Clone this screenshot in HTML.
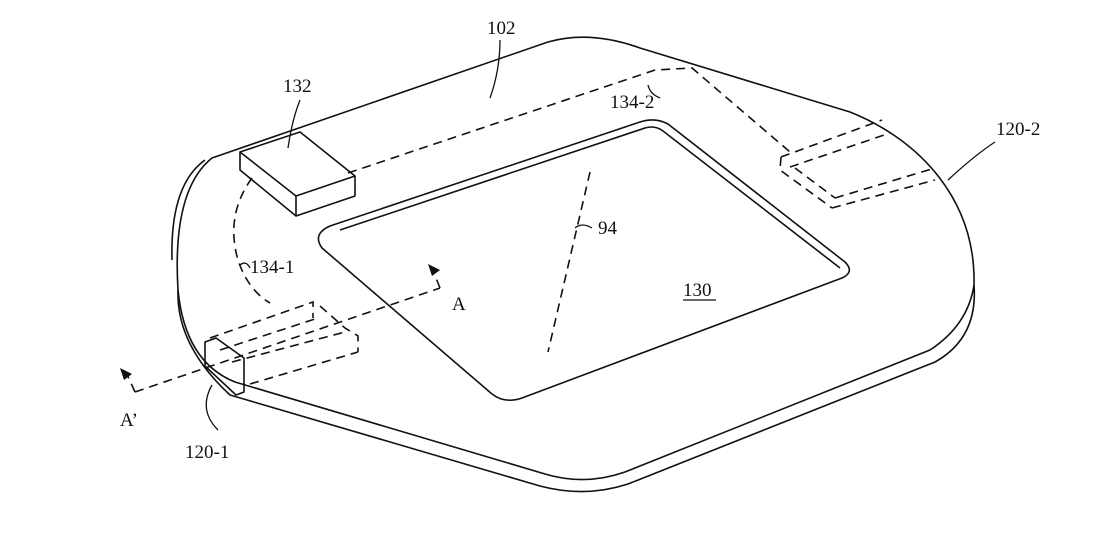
<!DOCTYPE html>
<html><head><meta charset="utf-8"><style>
html,body{margin:0;padding:0;background:#fff;}
svg{display:block}
text{font-family:"Liberation Serif",serif;font-size:19px;fill:#111}
</style></head><body>
<svg width="1109" height="534" viewBox="0 0 1109 534" xmlns="http://www.w3.org/2000/svg">
<g fill="none" stroke="#111" stroke-width="1.6" stroke-linejoin="round">
<path d="M212 158 L548 42 Q590 30 640 48 L850 112 C920 140 976 200 974 285 Q968 325 930 350 L625 472 Q585 486 545 474 L235 382 Q185 362 178 290 Q172 190 212 158 Z"/>
<path d="M178 290 Q176 345 230 395 L540 486 Q585 498 628 484 L935 362 Q978 338 974 285"/>
<path d="M205 160 Q170 185 172 260"/>
<path d="M330 226 L640 122 Q655 117 668 124 L845 262 Q855 272 842 278 L522 398 Q505 404 492 394 L322 248 Q312 234 330 226 Z"/>
<path d="M340 230 L645 128 Q655 125 663 131 L840 268"/>
<path d="M240 152 L300 132 L355 176 L296 196 Z"/>
<path d="M240 152 L240 170 L296 216 L355 196 L355 176"/>
<path d="M296 196 L296 216"/>
<path d="M205 342 L216 338 L244 358 L244 392 L236 395 L205 366 Z"/>
</g>
<g fill="none" stroke="#111" stroke-width="1.6" stroke-dasharray="9,6">
<path d="M348 173 L655 70 L692 68 L790 152"/>
<path d="M781 157 L882 120 M790 167 L890 133 M781 157 L780 170 L832 208 M795 168 L835 198 M835 198 L935 168 M832 208 L935 180"/>
<path d="M252 178 Q225 215 238 260 Q248 290 270 303"/>
<path d="M210 338 L313 302 L313 318 M220 350 L318 318 M232 362 L345 332 M250 384 L358 352 M320 306 L345 328 L358 336 L358 352"/>
<path d="M590 172 L548 352"/>
<path d="M135 392 L440 288"/>
<path d="M135 392 L126 372 M440 288 L432 268"/>
</g>
<g fill="#111" stroke="none">
<path d="M120 368 L132 374 L124 380 Z"/>
<path d="M428 264 L440 270 L432 276 Z"/>
</g>
<g fill="none" stroke="#111" stroke-width="1.3">
<path d="M490 98 Q500 70 500 40"/>
<path d="M288 148 Q292 120 300 100"/>
<path d="M648 85 Q650 94 660 98"/>
<path d="M948 180 Q975 155 995 142"/>
<path d="M575 228 Q582 222 592 228"/>
<path d="M240 265 Q246 260 250 268"/>
<path d="M212 385 Q198 410 218 430"/>
</g>
<text x="487" y="34">102</text>
<text x="283" y="92">132</text>
<text x="610" y="108">134-2</text>
<text x="996" y="135">120-2</text>
<text x="598" y="234">94</text>
<text x="250" y="273">134-1</text>
<text x="452" y="310">A</text>
<text x="683" y="296">130</text>
<line x1="683" y1="300" x2="716" y2="300" stroke="#111" stroke-width="1.3"/>
<text x="120" y="426">A’</text>
<text x="185" y="458">120-1</text>
</svg>
</body></html>
